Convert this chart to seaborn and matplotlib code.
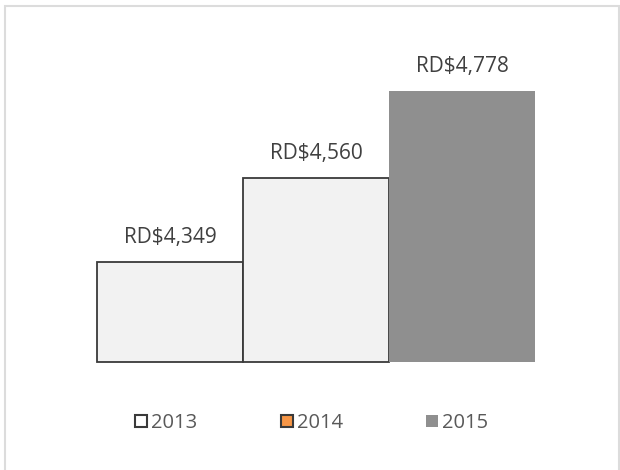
import numpy as np
import pandas as pd
import seaborn as sns
import matplotlib.pyplot as plt
from matplotlib.patches import Patch, Rectangle

# datos del grafico
anios = ['2013', '2014', '2015']
valores = [4349, 4560, 4778]
etiquetas = ['RD$4,349', 'RD$4,560', 'RD$4,778']
colores_barra = ['#f2f2f2', '#f2f2f2', '#8f8f8f']
colores_leyenda = ['#ffffff', '#f79646', '#8f8f8f']
base = 4098  # inicio del eje y (no empieza en cero)

datos = pd.DataFrame({'Año': anios, 'Valor': valores})

sns.set_style('white')
plt.rcParams['font.family'] = ['Open Sans', 'DejaVu Sans']

fig = plt.figure(figsize=(6.2, 4.7), dpi=100)
ax = fig.add_axes([97 / 620, 108 / 470, 438 / 620, 0.6])

sns.barplot(data=datos, x='Año', y='Valor', hue='Año', palette=colores_barra,
            width=1.0, legend=False, ax=ax, saturation=1)

# recortar las barras en la base y poner bordes a las claras
for i, barra in enumerate(ax.patches):
    alto = barra.get_height()
    barra.set_y(base)
    barra.set_height(alto - base)
    barra.set_clip_on(False)
    if i < 2:
        barra.set_edgecolor('#3a3a3a')
        barra.set_linewidth(1.3)
    else:
        barra.set_edgecolor('none')

ax.set_xlim(-0.5, 2.5)
ax.set_ylim(base, base + 0.6 * 470 / 0.3986)
ax.set_axis_off()

# etiquetas de valor
for i, (v, txt) in enumerate(zip(valores, etiquetas)):
    ax.annotate(txt, (i, v), xytext=(0, 13.5), textcoords='offset points',
                ha='center', va='baseline', fontsize=15, color='#404040',
                annotation_clip=False)

# leyenda
manejadores = [Patch(facecolor=colores_leyenda[0], edgecolor='#3a3a3a', linewidth=1.5),
               Patch(facecolor=colores_leyenda[1], edgecolor='#3a3a3a', linewidth=1.5),
               Patch(facecolor=colores_leyenda[2], edgecolor='none')]
fig.legend(manejadores, anios, loc='center', bbox_to_anchor=(0.503, 1 - 423 / 470),
           ncol=3, frameon=False, fontsize=14.5, labelcolor='#595959',
           handlelength=0.58, handleheight=0.58, handletextpad=0.2, columnspacing=4.15)

# marco del area del grafico
fig.patches.append(Rectangle((5 / 620, -0.1), 1 - 5.5 / 620 - 5 / 620 + 0.008, 1.1 - 6.5 / 470,
                             transform=fig.transFigure, facecolor='none',
                             edgecolor='#dcdcdc', linewidth=1.5))

plt.savefig('out.png', dpi=100)
